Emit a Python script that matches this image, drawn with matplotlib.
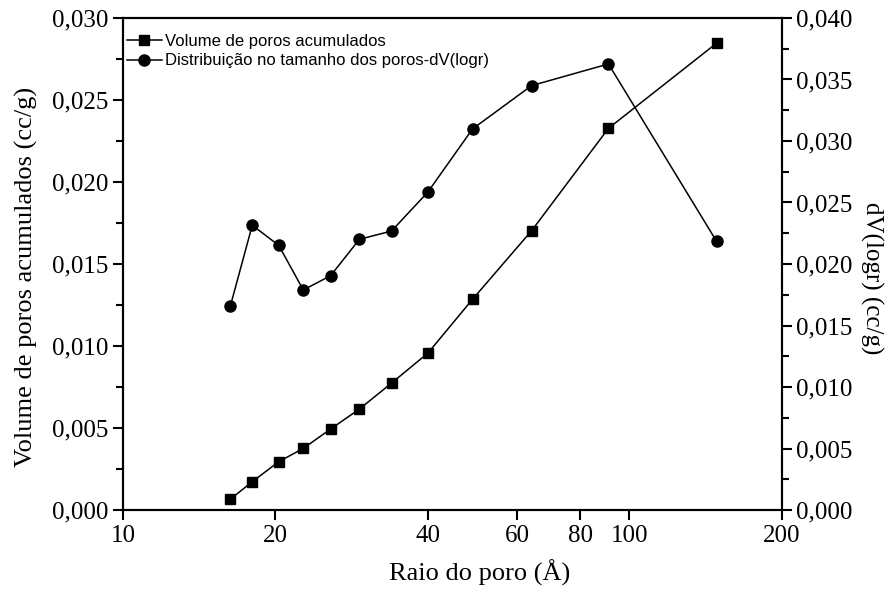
import numpy as np
import matplotlib.pyplot as plt
from matplotlib.ticker import FixedLocator, FuncFormatter, MultipleLocator, NullLocator

# Pore radius (Angstrom), shared by both series
raio = [16.3, 18.0, 20.3, 22.7, 25.7, 29.3, 33.9, 40.0, 49.0, 64.1, 90.9, 148.6]
# Cumulative pore volume (cc/g), left axis
vol_acum = [0.00067, 0.00173, 0.00295, 0.00376, 0.00494, 0.00616,
            0.00774, 0.00957, 0.01285, 0.01703, 0.02327, 0.02846]
# Pore size distribution dV(logr) (cc/g), right axis
dv_logr = [0.01661, 0.02315, 0.02152, 0.01789, 0.01905, 0.02201,
           0.02268, 0.02585, 0.03098, 0.03450, 0.03626, 0.02185]

xticks = [10, 20, 40, 60, 80, 100, 200]

serif = 'Liberation Serif'
plt.rcParams['font.family'] = serif

def virgula(v, pos):
    return ('%.3f' % v).replace('.', ',')

fig = plt.figure(figsize=(8.88, 5.98), dpi=100)
ax = fig.add_axes([0.1385, 0.147, 0.742, 0.823])
ax2 = ax.twinx()

l1, = ax.plot(raio, vol_acum, color='black', lw=1.1, marker='s', ms=7,
              label='Volume de poros acumulados')
l2, = ax2.plot(raio, dv_logr, color='black', lw=1.1, marker='o', ms=8,
               label='Distribuição no tamanho dos poros-dV(logr)')

ax.set_xscale('log')
ax.set_xlim(10, 200)
ax.xaxis.set_major_locator(FixedLocator(xticks))
ax.xaxis.set_minor_locator(NullLocator())
ax.xaxis.set_major_formatter(FuncFormatter(lambda v, p: '%d' % v))

ax.set_ylim(0, 0.030)
ax.yaxis.set_major_locator(MultipleLocator(0.005))
ax.yaxis.set_minor_locator(MultipleLocator(0.0025))
ax.yaxis.set_major_formatter(FuncFormatter(virgula))

ax2.set_ylim(0, 0.040)
ax2.yaxis.set_major_locator(MultipleLocator(0.005))
ax2.yaxis.set_minor_locator(MultipleLocator(0.0025))
ax2.yaxis.set_major_formatter(FuncFormatter(virgula))

for a in (ax, ax2):
    for s in a.spines.values():
        s.set_linewidth(1.5)
    a.tick_params(which='major', direction='out', length=7.5, width=1.5,
                  labelsize=18, pad=3)
    a.tick_params(which='minor', direction='out', length=5, width=1.5)

ax.set_xlabel('Raio do poro (Å)', fontsize=19, labelpad=9)
ax.xaxis.label.set_x(0.542)
ax.set_ylabel('Volume de poros acumulados (cc/g)', fontsize=19, labelpad=10)
ax.yaxis.label.set_y(0.474)
ax2.set_ylabel('dV(logr) (cc/g)', fontsize=18, rotation=270, labelpad=22)
ax2.yaxis.label.set_y(0.4715)

leg = ax.legend(handles=[l1, l2], loc='upper left', frameon=False,
                prop={'family': 'Liberation Sans', 'size': 12},
                handlelength=2.1, handletextpad=0.2, labelspacing=0.25,
                borderaxespad=0.0, borderpad=0.0,
                bbox_to_anchor=(0.006, 0.967))

fig.savefig('out.png', dpi=100)
